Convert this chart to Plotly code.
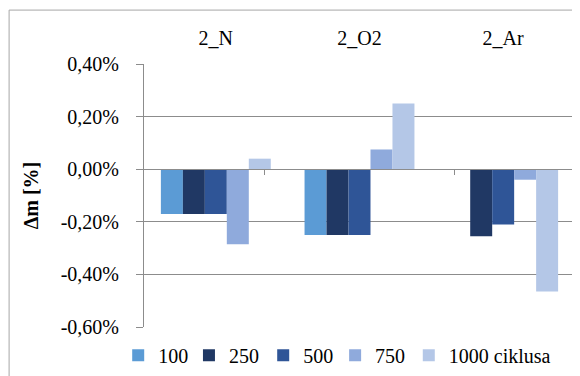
import plotly.graph_objects as go

# Mass change per sample group and cycle count, in percent
groups = ["2_N", "2_O2", "2_Ar"]
series_names = ["100", "250", "500", "750", "1000 ciklusa"]
dm_100 = [-0.17, -0.25, 0.0]
dm_250 = [-0.17, -0.25, -0.255]
dm_500 = [-0.17, -0.25, -0.21]
dm_750 = [-0.285, 0.075, -0.04]
dm_1000 = [0.04, 0.25, -0.465]
y_ticks = [-0.6, -0.4, -0.2, 0.0, 0.2, 0.4]
y_labels = ["-0,60%", "-0,40%", "-0,20%", "0,00%", "0,20%", "0,40%"]

colors = ["#5B9BD5", "#203864", "#2F5597", "#8FAADC", "#B4C7E7"]
font = dict(family="Liberation Serif", size=20, color="black")
grid = "#8C8C8C"
# left edge of each legend entry, as a fraction of the page width
legend_x = [0.190, 0.312, 0.440, 0.564, 0.691]

fig = go.Figure()
all_series = [dm_100, dm_250, dm_500, dm_750, dm_1000]
leg_ids = ["legend"] + [f"legend{i}" for i in range(2, len(series_names) + 1)]
for name, vals, col, leg in zip(series_names, all_series, colors, leg_ids):
    # one legend box per entry, so the Excel-like tight spacing can be kept
    fig.add_trace(go.Bar(x=groups, y=vals, name=name, legend=leg,
                         marker=dict(color=col, line=dict(width=0))))

# helper axis drawn along y = 0 to carry the boundary tick marks
fig.add_trace(go.Scatter(x=groups, y=[None] * len(groups), xaxis="x2", showlegend=False,
                         hoverinfo="skip"))

y_lo, y_hi = y_ticks[0], y_ticks[-1]
leg_common = dict(orientation="h", xref="container", yref="container", xanchor="left",
                  yanchor="top", y=0.128, font=font, itemwidth=30,
                  bgcolor="rgba(0,0,0,0)")
legends = {leg: dict(x=x, **leg_common) for leg, x in zip(leg_ids, legend_x)}

# the page body adds an 8px offset, so margins are shifted to compensate
fig.update_layout(
    width=580, height=376,
    margin=dict(l=136, r=13, t=56, b=57),
    paper_bgcolor="white", plot_bgcolor="white",
    font=font,
    barmode="group", bargap=0.235, bargroupgap=0,
    xaxis=dict(side="top", showline=False, ticks="", showgrid=False, zeroline=False,
               tickfont=font, ticklabelstandoff=14, automargin=False),
    xaxis2=dict(overlaying="x", anchor="free", position=(0 - y_lo) / (y_hi - y_lo),
                tickson="boundaries", ticks="outside", ticklen=5, tickcolor=grid,
                showticklabels=False, showline=True, linecolor=grid, linewidth=1,
                showgrid=False, zeroline=False, automargin=False,
                categoryorder="array", categoryarray=groups),
    yaxis=dict(range=[y_lo, y_hi], tickvals=y_ticks, ticktext=y_labels,
               showgrid=True, gridcolor=grid, gridwidth=1, zeroline=False,
               showline=True, linecolor=grid, ticks="outside", ticklen=7, tickcolor=grid,
               ticklabelstandoff=13, tickfont=font, automargin=False,
               title=dict(text="<b>Δm [%]</b>", font=font, standoff=16)),
    shapes=[dict(type="rect", xref="paper", yref="paper", x0=-0.313, x1=1.2,
                 y0=-0.4, y1=1.205, line=dict(color="#A6A6A6", width=1), layer="below")],
    **legends,
)

fig.write_html("out.html")
